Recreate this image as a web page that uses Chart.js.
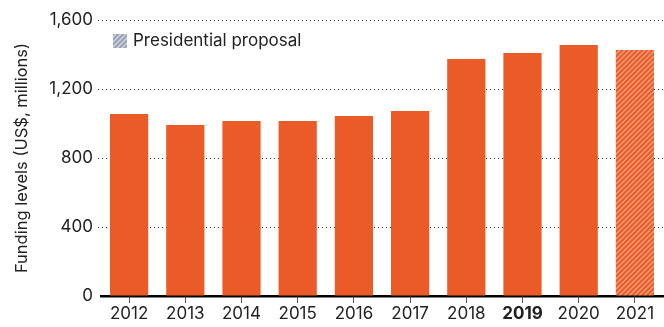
<!DOCTYPE html>
<html>
<head>
<meta charset="utf-8">
<script src="https://cdn.jsdelivr.net/npm/chart.js@4"></script>
<style>
  body { margin: 0; background: #fff; }
  #wrap { width: 664px; height: 327px; }
</style>
</head>
<body>
<div id="wrap"><canvas id="grafico"></canvas></div>
<script>
const anos = ['2012', '2013', '2014', '2015', '2016', '2017', '2018', '2019', '2020', '2021'];
const valores = [1055, 991, 1014, 1014, 1043, 1072, 1374, 1409, 1455, 1426];
const proposta = [false, false, false, false, false, false, false, false, false, true];
const yTicks = [0, 400, 800, 1200, 1600];

const laranja = '#eb5b28';

function hatch(base, stripe) {
  const c = document.createElement('canvas');
  c.width = 5;
  c.height = 5;
  const g = c.getContext('2d');
  g.fillStyle = base;
  g.fillRect(0, 0, 5, 5);
  g.strokeStyle = stripe;
  g.lineWidth = 1.4;
  g.beginPath();
  g.moveTo(-1, 6); g.lineTo(6, -1);
  g.moveTo(-1, 1); g.lineTo(1, -1);
  g.moveTo(4, 6); g.lineTo(6, 4);
  g.stroke();
  return g.createPattern(c, 'repeat');
}

const ctx = document.getElementById('grafico').getContext('2d');
const listras = hatch(laranja, '#f5a07e');
const listrasCinza = hatch('#9aa3b4', '#d3d8e0');

// linhas pontilhadas da grade, atrás das barras
const gradePlugin = {
  id: 'gradePontilhada',
  beforeDatasetsDraw(chart) {
    const c = chart.ctx;
    const a = chart.chartArea;
    const y = chart.scales.y;
    c.save();
    c.strokeStyle = '#333';
    c.lineWidth = 1;
    c.setLineDash([1, 3]);
    yTicks.forEach(v => {
      if (v === 0) return;
      const py = Math.round(y.getPixelForValue(v)) + 0.5;
      c.beginPath();
      c.moveTo(a.left - 3, py);
      c.lineTo(a.right, py);
      c.stroke();
    });
    c.restore();
  }
};

// legenda dentro da área do gráfico
const legendaPlugin = {
  id: 'legendaProposta',
  afterDraw(chart) {
    const c = chart.ctx;
    const a = chart.chartArea;
    c.save();
    c.fillStyle = listrasCinza;
    c.fillRect(a.left + 12, 34, 14, 14);
    c.fillStyle = '#222';
    c.font = '17px Inter';
    c.textBaseline = 'middle';
    c.fillText('Presidential proposal', a.left + 32, 41);
    c.restore();
  }
};

new Chart(ctx, {
  type: 'bar',
  data: {
    labels: anos,
    datasets: [{
      data: valores,
      backgroundColor: proposta.map(p => p ? listras : laranja),
      borderWidth: 0,
      categoryPercentage: 1,
      barPercentage: 0.68
    }]
  },
  options: {
    responsive: true,
    maintainAspectRatio: false,
    animation: false,
    layout: { padding: { top: 20, right: 1 } },
    plugins: {
      legend: { display: false },
      tooltip: { enabled: false }
    },
    scales: {
      x: {
        afterFit: s => { s.height = 31; },
        border: { display: true, color: '#000', width: 2.5 },
        grid: {
          offset: false,
          drawOnChartArea: false,
          drawTicks: true,
          tickLength: 7,
          color: '#555'
        },
        ticks: {
          color: '#222',
          padding: 1,
          font: c => ({ family: 'Inter', size: 17, weight: anos[c.index] === '2019' ? 'bold' : 'normal' })
        }
      },
      y: {
        min: 0,
        max: 1600,
        afterFit: s => { s.width = 101; },
        afterBuildTicks: s => { s.ticks = yTicks.map(v => ({ value: v })); },
        border: { display: false },
        grid: {
          drawOnChartArea: false,
          drawTicks: true,
          tickLength: 3,
          tickColor: 'rgba(0,0,0,0)'
        },
        ticks: {
          color: '#222',
          padding: 5,
          font: { family: 'Inter', size: 17 },
          callback: v => v.toLocaleString('en-US')
        },
        title: {
          display: true,
          text: 'Funding levels (US$, millions)',
          color: '#222',
          font: { family: 'Inter', size: 16.5 },
          padding: { top: 12, bottom: 0 }
        }
      }
    }
  },
  plugins: [gradePlugin, legendaPlugin]
});
</script>
</body>
</html>
